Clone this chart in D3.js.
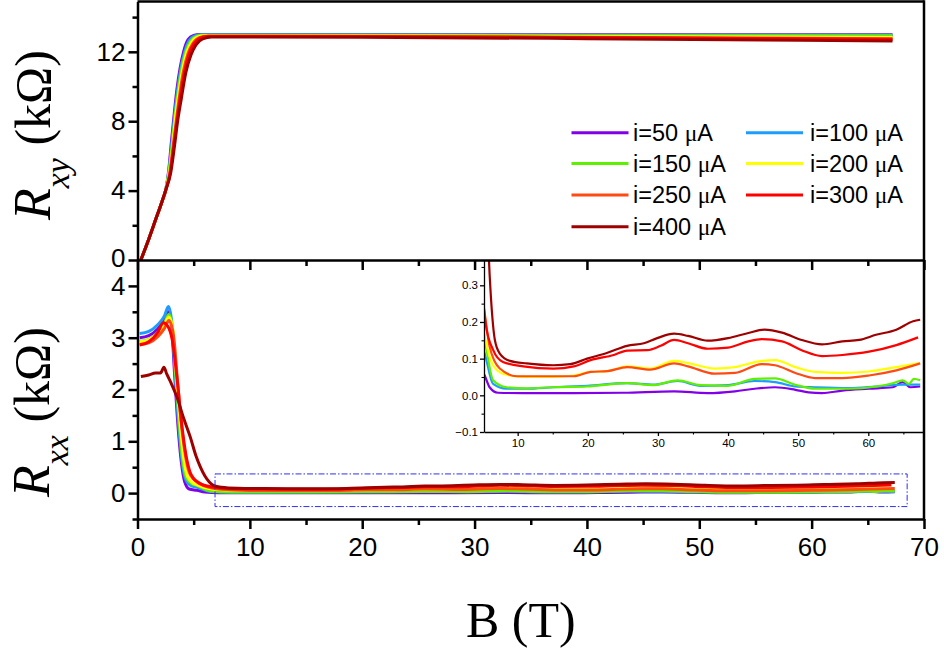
<!DOCTYPE html>
<html><head><meta charset="utf-8">
<script src="https://cdn.jsdelivr.net/npm/d3@7"></script>
<style>body{margin:0;background:#fff}svg{display:block}</style>
</head><body><svg id="c" width="944" height="652"></svg>
<script>
// ---------- data ----------
const currents = [50,100,150,200,250,300,400];
const seriesLabels = ["i=50 ","i=100 ","i=150 ","i=200 ","i=250 ","i=300 ","i=400 "];
const colors = ["#8200e8","#1c9cff","#5ef000","#ffff00","#ff4a12","#ff0000","#9e0000"];

const xMainTicks = [0,10,20,30,40,50,60,70];
const xMainMinor = [5,15,25,35,45,55,65];
const yTopTicks = [0,4,8,12];
const yTopMinor = [2,6,10,14];
const yBotTicks = [0,1,2,3,4];
const yBotMinor = [-0.5,0.5,1.5,2.5,3.5];
const xInsetTicks = [10,20,30,40,50,60];
const xInsetMinor = [15,25,35,45,55,65];
const yInsetTicks = [-0.1,0.0,0.1,0.2,0.3];
const yInsetMinor = [-0.05,0.05,0.15,0.25,0.35];

// Rxy (kOhm) vs B (T)
const rxy50  = [[0.3,0],[1.0,1.2],[1.6,2.3],[2.2,3.4],[2.5,4.0],[2.8,5.3],[3.0,6.7],[3.2,8.0],[3.5,9.8],[3.8,11.1],[4.1,12.0],[4.5,12.7],[5.0,12.95],[5.5,13.0],[20,13.0],[40,12.98],[67.2,12.98]];
const rxy100 = [[0.3,0],[1.0,1.2],[1.6,2.3],[2.2,3.4],[2.5,4.0],[2.8,5.2],[3.05,6.7],[3.25,8.0],[3.55,9.7],[3.85,11.0],[4.2,12.0],[4.6,12.65],[5.1,12.92],[5.7,12.98],[20,12.98],[40,12.96],[67.2,12.95]];
const rxy150 = [[0.3,0],[1.0,1.2],[1.6,2.3],[2.2,3.4],[2.5,4.0],[2.8,5.1],[3.1,6.7],[3.3,8.0],[3.6,9.6],[3.9,10.9],[4.3,12.0],[4.7,12.6],[5.2,12.88],[5.8,12.95],[20,12.95],[40,12.93],[67.2,12.92]];
const rxy200 = [[0.3,0],[1.0,1.2],[1.6,2.3],[2.2,3.4],[2.5,4.0],[2.85,5.1],[3.15,6.7],[3.35,8.0],[3.65,9.5],[4.0,10.9],[4.4,12.0],[4.8,12.55],[5.3,12.85],[6.0,12.93],[20,12.92],[40,12.88],[67.2,12.83]];
const rxy250 = [[0.3,0],[1.0,1.2],[1.6,2.3],[2.2,3.4],[2.5,4.0],[2.9,5.1],[3.2,6.7],[3.45,8.0],[3.75,9.5],[4.1,10.9],[4.5,11.9],[4.95,12.5],[5.5,12.82],[6.2,12.9],[20,12.9],[40,12.84],[67.2,12.76]];
const rxy300 = [[0.3,0],[1.0,1.2],[1.6,2.3],[2.2,3.4],[2.5,4.0],[2.9,5.0],[3.25,6.7],[3.5,8.0],[3.8,9.4],[4.2,10.9],[4.6,11.9],[5.0,12.45],[5.6,12.8],[6.3,12.9],[20,12.88],[40,12.82],[67.2,12.72]];
const rxy400 = [[0.3,0],[1.0,1.2],[1.6,2.3],[2.2,3.4],[2.5,4.0],[2.95,5.0],[3.3,6.6],[3.55,7.9],[3.9,9.3],[4.3,10.8],[4.75,11.8],[5.2,12.4],[5.8,12.75],[6.6,12.86],[20,12.84],[40,12.76],[67.2,12.62]];

// Rxx (kOhm) vs B (T)
const rxx50  = [[0.2,3.0],[1.0,3.04],[1.8,3.17],[2.4,3.35],[2.75,3.5],[3.0,3.3],[3.3,2.3],[3.6,1.3],[3.9,0.6],[4.2,0.22],[4.6,0.08],[5.3,0.054],[6.0,0.022],[7.2,0.007],[10.8,0.006],[18.0,0.006],[25.1,0.007],[32.3,0.011],[37.1,0.006],[41.0,0.011],[43.8,0.018],[46.7,0.022],[49.6,0.015],[51.5,0.008],[53.4,0.006],[56.3,0.013],[60.1,0.018],[63.5,0.022],[64.9,0.036],[66.0,0.022],[67.4,0.024]];
const rxx100 = [[0.2,3.08],[1.0,3.12],[1.8,3.25],[2.4,3.42],[2.75,3.6],[3.05,3.3],[3.35,2.3],[3.65,1.35],[3.95,0.65],[4.3,0.26],[4.8,0.14],[5.3,0.114],[6.5,0.031],[8.4,0.018],[11.3,0.018],[15.1,0.022],[19.9,0.026],[25.6,0.033],[29.4,0.029],[32.8,0.039],[36.1,0.026],[40.0,0.028],[43.8,0.039],[46.7,0.036],[49.6,0.024],[52.4,0.022],[57.2,0.02],[61.1,0.024],[64.9,0.029],[67.4,0.029]];
const rxx150 = [[0.2,2.93],[1.0,2.97],[1.8,3.1],[2.4,3.28],[2.8,3.45],[3.1,3.2],[3.4,2.3],[3.7,1.4],[4.0,0.7],[4.35,0.3],[4.8,0.19],[5.3,0.151],[6.5,0.041],[8.4,0.022],[11.3,0.019],[15.1,0.022],[19.9,0.024],[25.6,0.033],[29.4,0.028],[32.8,0.041],[36.1,0.028],[40.0,0.026],[43.8,0.045],[46.7,0.046],[49.6,0.029],[52.4,0.018],[57.2,0.018],[61.1,0.024],[63.5,0.033],[64.9,0.041],[65.8,0.031],[66.5,0.045],[67.4,0.041]];
const rxx200 = [[0.2,2.92],[1.0,2.96],[1.8,3.08],[2.4,3.25],[2.8,3.4],[3.15,3.15],[3.45,2.3],[3.8,1.35],[4.1,0.7],[4.45,0.32],[4.9,0.2],[5.3,0.16],[6.5,0.082],[7.9,0.059],[10.8,0.05],[15.1,0.05],[18.0,0.054],[20.4,0.064],[22.8,0.066],[25.6,0.079],[28.9,0.073],[32.3,0.094],[34.3,0.088],[38.1,0.073],[41.0,0.077],[44.8,0.094],[46.7,0.096],[49.6,0.077],[52.4,0.064],[56.3,0.061],[60.1,0.065],[64.0,0.077],[67.3,0.088]];
const rxx250 = [[0.2,2.87],[1.0,2.9],[1.8,3.02],[2.4,3.18],[2.8,3.33],[3.2,3.05],[3.55,2.2],[3.9,1.35],[4.25,0.75],[4.6,0.4],[5.0,0.27],[5.3,0.225],[6.0,0.133],[7.45,0.073],[9.9,0.052],[15.1,0.052],[18.0,0.052],[20.4,0.064],[22.8,0.066],[25.6,0.077],[28.9,0.07],[32.3,0.087],[34.3,0.079],[38.1,0.059],[41.0,0.061],[44.8,0.085],[46.7,0.082],[49.6,0.061],[52.4,0.047],[56.3,0.047],[60.1,0.054],[64.0,0.068],[67.4,0.087]];
const rxx300 = [[0.2,2.86],[1.0,2.92],[1.8,3.1],[2.3,3.29],[2.7,3.22],[3.1,2.95],[3.55,2.15],[3.95,1.3],[4.3,0.75],[4.65,0.42],[5.0,0.28],[5.5,0.188],[6.5,0.124],[7.9,0.091],[10.8,0.079],[15.1,0.073],[18.0,0.079],[20.4,0.096],[23.7,0.11],[25.6,0.122],[28.5,0.123],[30.4,0.135],[32.3,0.151],[34.3,0.142],[37.1,0.127],[40.0,0.13],[42.9,0.147],[44.8,0.153],[47.7,0.147],[50.5,0.123],[53.4,0.107],[56.3,0.11],[60.1,0.119],[64.0,0.137],[67.1,0.158]];
const rxx400 = [[0.3,2.25],[1.0,2.28],[1.6,2.32],[2.05,2.32],[2.35,2.43],[2.6,2.3],[3.0,2.12],[3.5,1.86],[4.1,1.45],[4.7,1.08],[5.2,0.72],[5.6,0.5],[6.0,0.33],[6.75,0.151],[7.45,0.114],[8.9,0.094],[11.3,0.087],[15.1,0.082],[17.5,0.085],[19.9,0.1],[22.8,0.116],[25.6,0.135],[28.0,0.142],[29.9,0.156],[32.3,0.168],[34.3,0.162],[37.1,0.149],[40.0,0.156],[42.9,0.17],[45.2,0.179],[47.7,0.171],[50.5,0.151],[53.4,0.139],[56.3,0.147],[58.7,0.151],[61.1,0.165],[64.0,0.179],[66.4,0.202],[67.4,0.206]];

const rxySeries = [rxy50,rxy100,rxy150,rxy200,rxy250,rxy300,rxy400];
const rxxSeries = [rxx50,rxx100,rxx150,rxx200,rxx250,rxx300,rxx400];
const zoomBox = {x0:6.9, x1:68.5, y0:-0.26, y1:0.37};

// ---------- layout ----------
const svg = d3.select("#c");
const L = 137.5, R = 924, T = 1.5, MID = 260, B = 519;
const x = d3.scaleLinear([0,70],[L,R]);
const yTop = d3.scaleLinear([0,14.9],[MID,T]);
const yBot = d3.scaleLinear([-0.5,4.5],[B,MID]);
const IL = 484, IR = 923, IB = 432;
const xi = d3.scaleLinear([5.2,67.8],[IL,IR]);
const yi = d3.scaleLinear([-0.1,0.369],[IB,MID]);

const sans = "'Liberation Sans', Arial, sans-serif";
const serif = "'Liberation Serif', 'Times New Roman', serif";

const defs = svg.append("defs");
defs.append("clipPath").attr("id","cTop").append("rect").attr("x",L).attr("y",T).attr("width",R-L).attr("height",MID-T);
defs.append("clipPath").attr("id","cBot").append("rect").attr("x",L).attr("y",MID).attr("width",R-L).attr("height",B-MID);
defs.append("clipPath").attr("id","cIn").append("rect").attr("x",IL).attr("y",MID).attr("width",IR-IL).attr("height",IB-MID);

// ---------- curves ----------
const lineTop = d3.line().x(d=>x(d[0])).y(d=>yTop(d[1])).curve(d3.curveMonotoneX);
const lineBot = d3.line().x(d=>x(d[0])).y(d=>yBot(d[1])).curve(d3.curveMonotoneX);
const lineIn = d3.line().x(d=>xi(d[0])).y(d=>yi(d[1])).curve(d3.curveMonotoneX);

svg.append("g").attr("clip-path","url(#cTop)").selectAll("path").data(rxySeries).join("path")
  .attr("d",lineTop).attr("fill","none").attr("stroke",(d,i)=>colors[i]).attr("stroke-width",3);

svg.append("g").attr("clip-path","url(#cBot)").selectAll("path").data(rxxSeries).join("path")
  .attr("d",lineBot).attr("fill","none").attr("stroke",(d,i)=>colors[i]).attr("stroke-width",3);

// dashed zoom box
svg.append("rect").attr("x",x(zoomBox.x0)).attr("y",yBot(zoomBox.y1))
  .attr("width",x(zoomBox.x1)-x(zoomBox.x0)).attr("height",yBot(zoomBox.y0)-yBot(zoomBox.y1))
  .attr("fill","none").attr("stroke","#3030f0").attr("stroke-width",1).attr("stroke-dasharray","6,2,1.5,2");

// inset
svg.append("rect").attr("x",IL).attr("y",MID).attr("width",IR-IL).attr("height",IB-MID).attr("fill","#fff");
svg.append("g").attr("clip-path","url(#cIn)").selectAll("path").data(rxxSeries).join("path")
  .attr("d",lineIn).attr("fill","none").attr("stroke",(d,i)=>colors[i]).attr("stroke-width",2.2);

function styleAxis(g, fs, ff, sw){
  g.selectAll(".domain").attr("stroke","#000").attr("stroke-width",sw);
  g.selectAll(".tick line").attr("stroke","#000").attr("stroke-width",sw);
  g.selectAll("text").attr("font-size",fs).attr("font-family",ff).attr("fill","#000");
}
// inset axes
const ixa = svg.append("g").attr("transform",`translate(0,${IB})`)
  .call(d3.axisBottom(xi).tickValues(xInsetTicks).tickSize(4).tickPadding(3).tickSizeOuter(0).tickFormat(d3.format("d")));
styleAxis(ixa,11.5,sans,1.3);
const ixm = svg.append("g").attr("transform",`translate(0,${IB})`)
  .call(d3.axisBottom(xi).tickValues(xInsetMinor).tickSize(2.5).tickFormat(""));
ixm.select(".domain").remove(); styleAxis(ixm,11,sans,1.1);
const iya = svg.append("g").attr("transform",`translate(${IL},0)`)
  .call(d3.axisLeft(yi).tickValues(yInsetTicks).tickSize(4).tickPadding(2).tickSizeOuter(0).tickFormat(d3.format(".1f")));
styleAxis(iya,11.5,sans,1.3);
const iym = svg.append("g").attr("transform",`translate(${IL},0)`)
  .call(d3.axisLeft(yi).tickValues(yInsetMinor).tickSize(2.5).tickFormat(""));
iym.select(".domain").remove(); styleAxis(iym,11,sans,1.1);

// ---------- main axes ----------
const SW = 2.5;
const intFmt = d3.format("d");
// top panel left
const tl = svg.append("g").attr("transform",`translate(${L},0)`)
  .call(d3.axisLeft(yTop).tickValues(yTopTicks).tickSize(9).tickPadding(3).tickSizeOuter(0).tickFormat(intFmt));
styleAxis(tl,26,sans,SW);
tl.selectAll(".tick text").filter(d=>d===0).attr("dy","0.25em");
const tlm = svg.append("g").attr("transform",`translate(${L},0)`)
  .call(d3.axisLeft(yTop).tickValues(yTopMinor).tickSize(5).tickFormat(""));
tlm.select(".domain").remove(); styleAxis(tlm,26,sans,SW);
// bottom panel left
const bl = svg.append("g").attr("transform",`translate(${L},0)`)
  .call(d3.axisLeft(yBot).tickValues(yBotTicks).tickSize(9).tickPadding(3).tickSizeOuter(0).tickFormat(intFmt));
styleAxis(bl,26,sans,SW);
const blm = svg.append("g").attr("transform",`translate(${L},0)`)
  .call(d3.axisLeft(yBot).tickValues(yBotMinor).tickSize(5).tickFormat(""));
blm.select(".domain").remove(); styleAxis(blm,26,sans,SW);
// bottom x axis
const bx = svg.append("g").attr("transform",`translate(0,${B})`)
  .call(d3.axisBottom(x).tickValues(xMainTicks).tickSize(10).tickPadding(9).tickSizeOuter(0).tickFormat(intFmt));
styleAxis(bx,26,sans,SW);
const bxm = svg.append("g").attr("transform",`translate(0,${B})`)
  .call(d3.axisBottom(x).tickValues(xMainMinor).tickSize(6).tickFormat(""));
bxm.select(".domain").remove(); styleAxis(bxm,26,sans,SW);
// middle shared axis, ticks pointing down into lower panel
const mx = svg.append("g").attr("transform",`translate(0,${MID})`)
  .call(d3.axisBottom(x).tickValues(xMainTicks).tickSize(10).tickFormat("").tickSizeOuter(0));
styleAxis(mx,26,sans,SW);
const mxm = svg.append("g").attr("transform",`translate(0,${MID})`)
  .call(d3.axisBottom(x).tickValues(xMainMinor).tickSize(6).tickFormat(""));
mxm.select(".domain").remove(); styleAxis(mxm,26,sans,SW);
// frame top and right
svg.append("line").attr("x1",L).attr("x2",R).attr("y1",T).attr("y2",T).attr("stroke","#000").attr("stroke-width",SW);
svg.append("line").attr("x1",R).attr("x2",R).attr("y1",T-1.2).attr("y2",B+1.2).attr("stroke","#000").attr("stroke-width",SW);

// ---------- titles ----------
function yTitle(xb, yb, sub){
  const t = svg.append("text").attr("transform",`translate(${xb},${yb}) rotate(-90)`)
    .attr("font-family",serif).attr("fill","#000");
  t.append("tspan").attr("font-style","italic").attr("font-size",52).text("R");
  t.append("tspan").attr("font-style","italic").attr("font-size",34).attr("dy",19).text(sub);
  t.append("tspan").attr("font-size",50).attr("dy",-19).text(" (k\u03A9)");
}
yTitle(50,220,"xy");
yTitle(49,497,"xx");
svg.append("text").attr("x",(L+R)/2-10).attr("y",637).attr("text-anchor","middle")
  .attr("font-family",serif).attr("font-size",50).text("B (T)");

// ---------- legend ----------
const legX = [571.5,746], legTextX = [633,810], legY = [132.7,163.5,195,226.7];
const leg = svg.append("g");
currents.forEach((c,i)=>{
  const col = i===6 ? 0 : i%2, row = Math.floor(i/2);
  const g = leg.append("g");
  g.append("line").attr("x1",legX[col]).attr("x2",legX[col]+57).attr("y1",legY[row]).attr("y2",legY[row])
    .attr("stroke",colors[i]).attr("stroke-width",3);
  const t = g.append("text").attr("x",legTextX[col]).attr("y",legY[row]).attr("dy","0.36em")
    .attr("font-family",sans).attr("font-size",23.5).attr("fill","#000");
  t.append("tspan").text(seriesLabels[i]);
  t.append("tspan").attr("font-family",serif).text("\u03BC");
  t.append("tspan").text("A");
});
</script>
</body></html>
